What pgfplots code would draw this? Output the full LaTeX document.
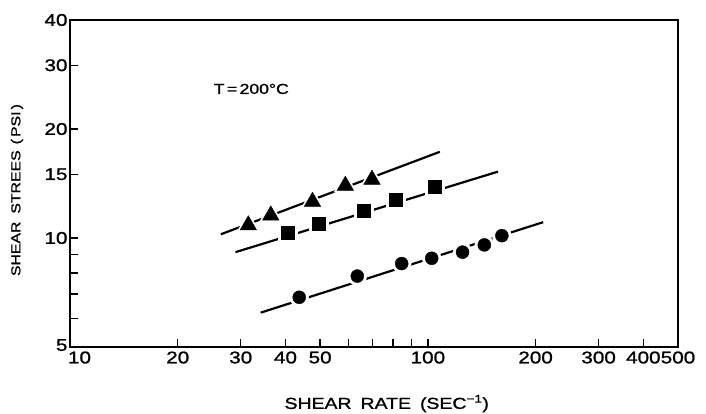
\documentclass[border=0pt]{standalone}
\usepackage{fontspec}
\setmainfont{Liberation Sans}[FakeStretch=1.22, FakeBold=1.2]
\usepackage{pgfplots}
\usepackage{pgfplotstable}
\pgfplotsset{compat=1.18}

\pgfplotstableread{
x y
31.5 10.85
36.4 11.55
47.6 12.6
58.8 13.95
69.8 14.5
}\tri
\pgfplotstableread{
x y
40.7 10.35
49.5 10.98
66.0 11.9
81.5 12.74
104.7 13.85
}\sqr
\pgfplotstableread{
x y
43.7 6.86
63.5 7.85
84.5 8.5
102.5 8.79
125 9.14
143.8 9.57
161 10.15
}\cir

\begin{document}
\begin{tikzpicture}
\path[use as bounding box] (-70bp,-67bp) rectangle (636bp,347bp);
\begin{axis}[
  at={(0,0)}, anchor=south west,
  scale only axis, width=608bp, height=327bp,
  xmode=log, ymode=log,
  xmin=10, xmax=500, ymin=5, ymax=40,
  xtick={10,20,30,40,50,100,200,300,400,500},
  xticklabels={\rlap{\kern-2bp 10},20,30,40,50,100,200,300,400,500},
  minor xtick={60,70,80,90},
  ytick={5,10,15,20,30,40},
  yticklabels={\raisebox{4bp}{5},10,15,20,30,40},
  minor ytick={6,7,8,9},
  tick pos=left, tick align=inside,
  major tick length=8bp, minor tick length=8bp,
  every tick/.style={black, line width=1.4bp},
  axis line style={line width=1.8bp},
  /pgf/number format/assume math mode=true,
  ticklabel style={font=\fontsize{17}{17}\selectfont},
  xticklabel style={yshift=-1bp},
  yticklabel style={xshift=1bp},
  xlabel={SHEAR\hspace{9bp}RATE\hspace{9bp}(SEC\textsuperscript{−1})},
  ylabel={SHEAR\hspace{8bp}STREES\hspace{6bp}(\,PSI\,)},
  xlabel style={font=\fontsize{16}{16}\selectfont, at={(axis description cs:0.521,-0.173)}, anchor=center},
  ylabel style={font=\fontsize{13}{13}\selectfont, at={(axis description cs:-0.0872,0.48)}, anchor=center, rotate=0},
]
% fitted lines
\addplot[black, line width=2.2bp, no marks] coordinates {(26.4,10.24) (108,17.3)};
\addplot[black, line width=2.2bp, no marks] coordinates {(29,9.14) (157,15.25)};
\addplot[black, line width=2.2bp, no marks] coordinates {(34.1,6.22) (210,11.06)};
% white halos
\addplot[white, only marks, mark=triangle*, mark size=13bp, mark options={draw=none, fill=white}] table {\tri};
\addplot[white, only marks, mark=square*, mark size=9.5bp, mark options={draw=none, fill=white}] table {\sqr};
\addplot[white, only marks, mark=*, mark size=9.5bp, mark options={draw=none, fill=white}] table {\cir};
% markers
\addplot[black, only marks, mark=triangle*, mark size=9.5bp, mark options={draw=none, fill=black}] table {\tri};
\addplot[black, only marks, mark=square*, mark size=6.5bp, mark options={draw=none, fill=black}] table {\sqr};
\addplot[black, only marks, mark=*, mark size=6.5bp, mark options={draw=none, fill=black}] table {\cir};
\node[font=\fontsize{14.5}{14.5}\selectfont, anchor=center] at (axis cs:32.1,25.8) {T\,=\,200°C};
\end{axis}
\end{tikzpicture}
\end{document}
